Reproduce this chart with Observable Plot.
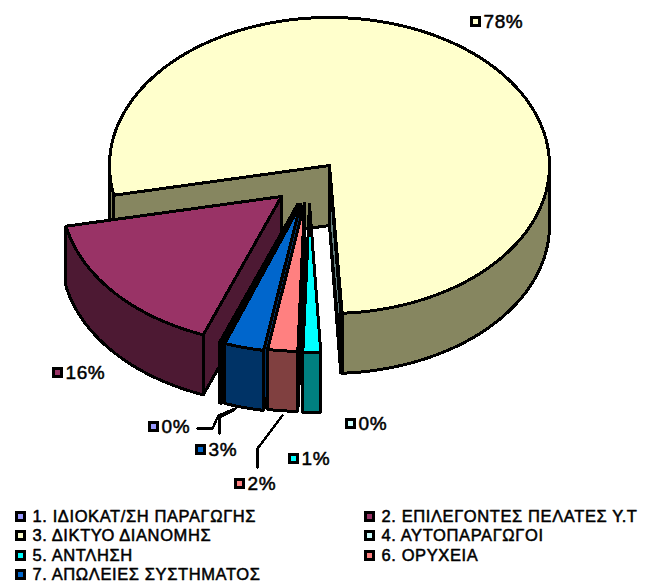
<!DOCTYPE html>
<html><head><meta charset="utf-8">
<script src="https://cdn.jsdelivr.net/npm/d3@7"></script>
<script src="https://cdn.jsdelivr.net/npm/@observablehq/plot@0.6"></script>
<style>html,body{margin:0;padding:0;background:#fff;overflow:hidden}svg{display:block}</style>
</head><body><div id="chart"></div>
<script>
const categories = ["1. ΙΔΙΟΚΑΤ/ΣΗ ΠΑΡΑΓΩΓΗΣ","2. ΕΠΙΛΕΓΟΝΤΕΣ ΠΕΛΑΤΕΣ Υ.Τ","3. ΔΙΚΤΥΟ ΔΙΑΝΟΜΗΣ","4. ΑΥΤΟΠΑΡΑΓΩΓΟΙ","5. ΑΝΤΛΗΣΗ","6. ΟΡΥΧΕΙΑ","7. ΑΠΩΛΕΙΕΣ ΣΥΣΤΗΜΑΤΟΣ"];
const values = [0.2, 16, 77.3, 0.1, 1.3, 2.2, 2.9];
const percentLabels = ["0%","16%","78%","0%","1%","2%","3%"];
const topColors = ["#9999FF","#993366","#FFFFCC","#CCFFFF","#00FFFF","#FF8080","#0066CC"];
const sideColors = ["#4D4D80","#4D1933","#868660","#668080","#008080","#804040","#003366"];

// layout, in page pixels
const rx = 220, ry = 148, depth = 60, startAngle = 200.1;
const centers = [[297,204],[281,196],[329,165],[329,165],[309,204],[304,203],[300,204]];
const labelPos = [[153,426],[57,372],[475,21],[350,423],[293,458],[239,483],[200,449]];
const legendPos = [[20,516],[369,516],[20,535],[369,535],[20,555],[369,555],[20,574]];
const leaders = [
  {i:0,pts:[[197,428],[212,428],[218,415],[235,408]]},
  {i:6,pts:[[219,433],[219,417],[233,410]]},
  {i:5,pts:[[257,467],[257,448],[282,415]]}
];
const paintOrder = [2,3,1,0,6,5,4];

const total = d3.sum(values);
let acc = startAngle;
const spans = values.map(v => { const a = acc; acc += v/total*360; return [a, acc]; });
const pt = (c,t,dy=0) => { const r = t*Math.PI/180; return [c[0]+rx*Math.sin(r), c[1]-ry*Math.cos(r)+dy]; };
function arc(c,a,b,dy=0){ const n = Math.max(2,Math.ceil((b-a)/1.5)); return d3.range(n+1).map(k=>pt(c,a+(b-a)*k/n,dy)); }
function front(a,b){ // clockwise angle spans where the rim faces the viewer (90..270 mod 360)
  const out=[]; for(const off of [0,360]){ const s=Math.max(a,90+off), e=Math.min(b,270+off); if(e>s) out.push([s,e]); } return out;
}
const rows=[]; let id=0;
function poly(points,color){ id++; const closed=[...points,points[0]]; closed.forEach(p=>rows.push({id,x:p[0],y:p[1],color})); }
for(const i of paintOrder){
  const c=centers[i],[a,b]=spans[i];
  for(const t of [b,a]){ const e=pt(c,t); poly([c,e,[e[0],e[1]+depth],[c[0],c[1]+depth]],sideColors[i]); }
  for(const [s,e] of front(a,b)) poly([...arc(c,s,e),...arc(c,s,e,depth).reverse()],sideColors[i]);
  poly([c,...arc(c,a,b)],topColors[i]);
}
const leaderRows = leaders.flatMap((l,k)=>l.pts.map(p=>({k,x:p[0],y:p[1]})));
const labels = percentLabels.map((t,i)=>({t,x:labelPos[i][0],y:labelPos[i][1],color:topColors[i]}));
const legend = categories.map((t,i)=>({t,x:legendPos[i][0],y:legendPos[i][1],color:topColors[i]}));
const font = {fontFamily:"Liberation Sans",fontWeight:400};

const chart = Plot.plot({
  width:652,height:583,margin:0,
  x:{domain:[0,652],range:[0,652],axis:null},
  y:{domain:[0,583],range:[0,583],axis:null},
  color:{type:"identity"},
  style:{background:"#fff",letterSpacing:"0.6px"},
  marks:[
    Plot.line(rows,{x:"x",y:"y",z:"id",fill:"color",stroke:"#000",strokeWidth:3,strokeLinejoin:"miter",curve:"linear",shapeRendering:"crispEdges"}),
    Plot.line(leaderRows,{x:"x",y:"y",z:"k",stroke:"#000",strokeWidth:2.4,shapeRendering:"crispEdges"}),
    Plot.dot(labels,{x:"x",y:"y",symbol:"square",r:4.2,fill:"color",stroke:"#000",strokeWidth:2.6,shapeRendering:"crispEdges"}),
    Plot.dot(legend,{x:"x",y:"y",symbol:"square",r:4.2,fill:"color",stroke:"#000",strokeWidth:2.6,shapeRendering:"crispEdges"}),
    Plot.text(labels,{x:d=>d.x+8,y:"y",text:"t",textAnchor:"start",fontSize:19,fill:"#000",stroke:"#000",strokeWidth:0.5,...font}),
    Plot.text(legend,{x:d=>d.x+12,y:"y",text:"t",textAnchor:"start",fontSize:16.5,fill:"#000",stroke:"#000",strokeWidth:0.5,...font})
  ]
});
document.getElementById("chart").appendChild(chart);
</script></body></html>
